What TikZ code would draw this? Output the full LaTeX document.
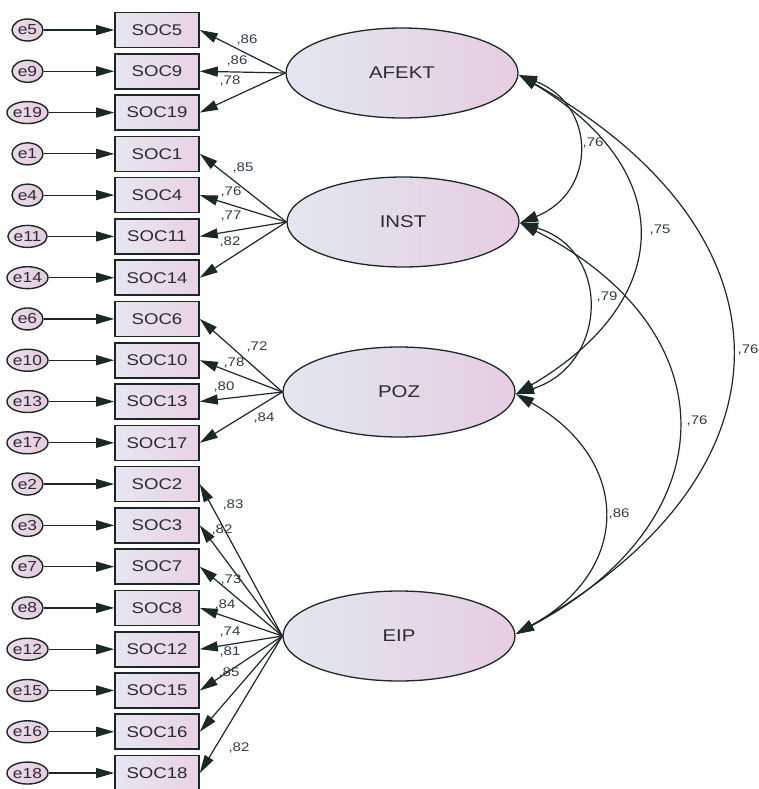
\documentclass[tikz,border=0pt]{standalone}
\usepackage{fontspec}
\setmainfont{Liberation Sans}
\newfontfamily\widesans[FakeStretch=1.2]{Liberation Sans}
\usetikzlibrary{arrows.meta,shapes.geometric}
\definecolor{ln}{HTML}{1C2828}
\definecolor{txt}{HTML}{2A2A30}
\definecolor{lbl}{HTML}{2E3C44}
\definecolor{lblue}{HTML}{E1E7EF}
\definecolor{lpink}{HTML}{E7CDE2}
\definecolor{bblue}{HTML}{E6E6F0}
\definecolor{bpink}{HTML}{E9D2E5}
\definecolor{epink}{HTML}{EDDCE8}
\definecolor{epink2}{HTML}{E4CCDD}
\begin{document}
\begin{tikzpicture}[x=1pt,y=-1pt,
  line width=1.2pt,
  obs/.style={draw=ln, line width=1.6pt, rectangle, minimum width=84pt, minimum height=35pt, inner sep=0pt,
    left color=bblue, right color=bpink, text=txt, font=\widesans\fontsize{15.5}{16}\selectfont},
  err/.style={draw=ln, line width=1.4pt, ellipse, minimum width=31pt, minimum height=22pt, inner sep=0pt,
    left color=epink, right color=epink2, text=txt, font=\widesans\fontsize{14.5}{15}\selectfont},
  lat/.style={draw=ln, line width=1.3pt, ellipse, minimum width=232pt, minimum height=90pt, inner sep=0pt,
    left color=lblue, right color=lpink, text=txt, font=\widesans\fontsize{17}{18}\selectfont},
  arr/.style={draw=ln, -{Triangle[length=18pt,width=10pt]}},
  cov/.style={draw=ln, {Triangle[length=18pt,width=11pt]}-{Triangle[length=18pt,width=11pt]}},
  val/.style={text=lbl, inner sep=0pt, font=\widesans\fontsize{12.5}{13}\selectfont}
]
\useasboundingbox (0,0) rectangle (759,789);

% observed variables and errors
\foreach \s [count=\i from 0] in {5,9,19,1,4,11,14,6,10,13,17,2,3,7,8,12,15,16,18}{
  \node[obs] (s\s) at (157,{30+41.28*\i}) {SOC\s};
  \node[err] (e\s) at (27.5,{30+41.28*\i}) {e\s};
  \draw[arr] (e\s) -- (s\s);
}

% latent variables
\node[lat] (AFEKT) at (402,73) {AFEKT};
\node[lat] (INST) at (403,222) {INST};
\node[lat] (POZ) at (399,392) {POZ};
\node[lat] (EIP) at (399,636) {EIP};

% loadings
\foreach \s/\lx/\ly/\v in {5/247/40/86, 9/237/61/86, 19/230/81/78}{
  \draw[arr] (AFEKT.west) -- (s\s.east);
  \node[val] at (\lx,\ly) {,\v};
}
\foreach \s/\lx/\ly/\v in {1/243/168/85, 4/231/192/76, 11/231/216/77, 14/230/242/82}{
  \draw[arr] (INST.west) -- (s\s.east);
  \node[val] at (\lx,\ly) {,\v};
}
\foreach \s/\lx/\ly/\v in {6/257/347/72, 10/234/363/78, 13/224/387/80, 17/264/418/84}{
  \draw[arr] (POZ.west) -- (s\s.east);
  \node[val] at (\lx,\ly) {,\v};
}
\foreach \s/\lx/\ly/\v in {2/233/505/83, 3/222/530/82, 7/231/580/73, 8/225/605/84, 12/230/632/74, 15/230/652/81, 16/229/673/85, 18/239/748/82}{
  \draw[arr] (EIP.west) -- (s\s.east);
  \node[val] at (\lx,\ly) {,\v};
}

% covariances
\coordinate (aE) at (519,75);
\coordinate (iE) at (520,223);
\coordinate (pE) at (516,394);
\coordinate (eE) at (516,634);
\draw[cov] (aE) .. controls (597,105) and (597,192) .. (iE);
\draw[cov] (aE) .. controls (679,170) and (676,300) .. (pE);
\draw[cov] (aE) .. controls (803,235) and (800,474) .. (eE);
\draw[cov] (iE) .. controls (612,250) and (608,365) .. (pE);
\draw[cov] (iE) .. controls (730,330) and (730,520) .. (eE);
\draw[cov] (pE) .. controls (632,460) and (632,570) .. (eE);

\node[val] at (593,143) {,76};
\node[val] at (660,230) {,75};
\node[val] at (748,350) {,76};
\node[val] at (607,297) {,79};
\node[val] at (697,421) {,76};
\node[val] at (619,514) {,86};
\end{tikzpicture}
\end{document}
